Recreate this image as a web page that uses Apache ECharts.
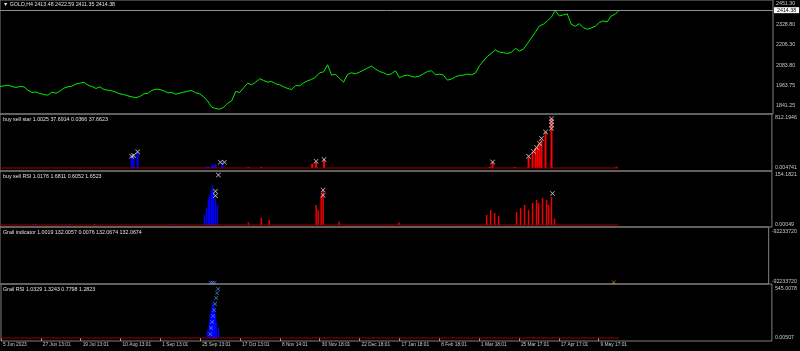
<!DOCTYPE html>
<html><head><meta charset="utf-8">
<script src="https://cdn.jsdelivr.net/npm/echarts@6/dist/echarts.min.js"></script>
<style>html,body{margin:0;padding:0;background:#000;}#c{width:800px;height:351px;}</style>
</head><body><div id="c"></div>
<script>
// ---------- DATA ----------
const BAR_STEP = 4; // bars between price samples
const price = [
1958,1962,1966,1958,1952,1958,1956,1935,1922,1925,1916,1910,1906,1924,1918,1930,1948,1956,1960,1972,
1978,1983,1966,1958,1946,1956,1940,1936,1932,1924,1914,1910,1902,1896,1891,1898,1914,1917,1934,1942,
1940,1932,1920,1922,1912,1918,1924,1930,1934,1920,1914,1896,1870,1834,1826,1822,1834,1858,1872,1928,
1922,1950,1978,1968,1984,2004,1994,1984,1988,1974,1968,1956,1946,1940,1964,1962,1980,1992,2000,2014,
2040,2045,2088,2026,2030,2006,1984,2030,2040,2034,2044,2056,2068,2080,2062,2048,2040,2028,2034,2052,
2010,2022,2026,2018,2014,2020,2034,2048,2052,2028,2032,2026,1996,2002,2016,2024,2026,2032,2028,2038,
2082,2110,2138,2156,2176,2164,2160,2156,2162,2186,2170,2180,2214,2248,2282,2320,2330,2350,2372,2412,
2380,2386,2392,2330,2318,2334,2310,2300,2308,2318,2340,2350,2344,2380,2390,2414.38];
const priceTicks = [2451.30, 2328.80, 2206.30, 2083.80, 1963.75, 1841.25];

const xLabels = ['5 Jun 2023','27 Jun 13:01','19 Jul 13:01','10 Aug 13:01','1 Sep 13:01','25 Sep 13:01',
 '17 Oct 13:01','8 Nov 14:01','30 Nov 18:01','22 Dec 18:01','17 Jan 18:01','8 Feb 18:01','1 Mar 18:01',
 '25 Mar 17:01','17 Apr 17:01','9 May 17:01'];
const X_LABEL_STEP = 40; // bars between time labels

const paneTitles = [
 '\u25BC GOLD,H4 2413.48 2422.59 2411.35 2414.38',
 'buy sell star 1.0025 37.6914 0.0366 37.6623',
 'buy sell RSI 1.0176 1.6811 0.6052 1.6523',
 'Grail indicator 1.0019 132.0057 0.0076 132.0674 132.0674',
 'Grail RSI 1.0329 1.3243 0.7798 1.2823'];

// buy sell star
const starBuyX = [132,134,138,207,209,213,215,216,223];
const starBuyY = [179,195,260,21,21,49,49,65,93];
const starSellX = [249,262,313,317,325,491,492,494,516,530,534,537,539,541,543,547,553,618];
const starSellY = [15,15,65,97,146,20,20,97,15,179,260,325,341,390,455,585,812.19,20];
const starMarkX = [132,134,138,221,225,317,325,494,530,535,538,541,543,547,553,553,553,553];
const starMarkY = [190,205,262,93,93,110,140,97,190,270,335,400,480,585,800,750,700,640];
const starTicks = [812.1946, 0];
const starTickLabels = ['812.1946','0.004741'];

// buy sell RSI
const rsiBuyX = [33,36,62,66,70,171,176,205,207,209,210,212,213,214,216,218,446,452];
const rsiBuyY = [4,3,4,3,4,3,3,31,52,77,93,108,123,102,83,62,3,4];
const rsiSellX = [95,249,262,270,317,319,322,324,340,400,488,492,496,500,518,522,526,530,534,538,540,544,548,550,553,556];
const rsiSellY = [3,8,22,15,62,46,93,108,10,8,31,46,37,28,40,52,62,46,68,77,68,83,77,62,87,20];
const rsiMarkX = [216,216,219,324,324,554];
const rsiMarkY = [104,90,154,108,92,97];
const rsiTicks = [154.1821, 0];
const rsiTickLabels = ['154.1821','0.00049'];

// Grail indicator
const grailIndMarkX = [212,214,216];
const grailIndMarkY = [0.02,0.02,0.02];
const grailIndOrangeX = [618];
const grailIndOrangeY = [0.03];
const grailIndTicks = [0.912, 0.035];
const grailIndTickLabels = ['-92233720','-92233720'];

// Grail RSI
const grailBuyX = [207,209,210,211,212,213,214,215,216,218];
const grailBuyY = [89,178,256,311,367,400,334,256,178,111];
const grailSellX = [248,262,316,320,325,495,505,535,545,555];
const grailSellY = [6,6,8,8,6,8,6,8,8,6];
const grailMarkX = [210,211,212,213,214,215,216,217,218];
const grailMarkY = [44,111,178,245,311,378,445,500,545];
const grailTicks = [545.0078, 0];
const grailTickLabels = ['545.0078','0.00507'];

// ---------- CHART ----------
const XPATH = 'path://M0,1L1,0L5,4L9,0L10,1L6,5L10,9L9,10L5,6L1,10L0,9L4,5Z';
const FONT = 'Liberation Sans, DejaVu Sans, sans-serif';
const PLOT_W = 773;
const panes = [
  {top:0, h:114, min:1793.4, max:2475.2, ticks:priceTicks, labels:priceTicks.map(v=>v.toFixed(2))},
  {top:114, h:57, min:-48.7, max:877.2, ticks:starTicks, labels:starTickLabels},
  {top:171, h:56, min:-6.17, max:166.5, ticks:rsiTicks, labels:rsiTickLabels},
  {top:227, h:57, min:0, max:1, ticks:grailIndTicks, labels:grailIndTickLabels},
  {top:284, h:57, min:-33.4, max:600.6, ticks:grailTicks, labels:grailTickLabels}
];

const grids = panes.map(p => ({left:-1, right:800-PLOT_W, top:p.top, height:p.h, show:true,
  borderColor:'#808080', borderWidth:1, backgroundColor:'transparent'}));
const xTickVals = xLabels.map((_, i) => i * X_LABEL_STEP);
const xAxes = panes.map((p, gi) => ({
  type:'value', gridIndex:gi, min:0, max:PLOT_W+1, show: gi === 4,
  axisLine:{show:false}, splitLine:{show:false},
  axisTick:{show:true, inside:false, length:3, customValues:xTickVals, lineStyle:{color:'#a0a0a0'}},
  axisLabel:{show:true, customValues:xTickVals, align:'left', padding:[0,0,0,2], margin:1,
    color:'#c8c8c8', fontSize:4.8, fontFamily:FONT,
    formatter: v => xLabels[Math.round(v / X_LABEL_STEP)] || ''}
}));
const yAxes = panes.map((p, gi) => ({
  type:'value', gridIndex:gi, position:'right', min:p.min, max:p.max,
  axisLine:{show:false}, axisTick:{show:false}, splitLine:{show:false},
  axisLabel:{show:true, customValues:p.ticks, margin:3, color:'#c8c8c8', fontSize:5.3, fontFamily:FONT,
    formatter: v => { let k = 0, d = Infinity; p.ticks.forEach((t,i)=>{ if (Math.abs(t-v)<d){d=Math.abs(t-v);k=i;} }); return p.labels[k]; }}
}));

function pairs(xs, ys){ return xs.map((x,i)=>[x, ys[i]]); }
function bars(gi, xs, ys, color, w){ return {type:'bar', xAxisIndex:gi, yAxisIndex:gi, data:pairs(xs,ys),
  barWidth:w||1, barGap:'-100%', itemStyle:{color}, silent:true}; }
function marks(gi, xs, ys, color, size){ return {type:'scatter', xAxisIndex:gi, yAxisIndex:gi, data:pairs(xs,ys),
  symbol:XPATH, symbolSize:size||5, itemStyle:{color}, silent:true, clip:false}; }
function baseline(gi){ return {type:'line', xAxisIndex:gi, yAxisIndex:gi, symbol:'none', silent:true,
  data: price.map((_, i) => [i*BAR_STEP, 0]), lineStyle:{color:'#a00000', width:1}}; }

const lastPrice = price[price.length-1];
const series = [
  {type:'line', xAxisIndex:0, yAxisIndex:0, symbol:'none', silent:true,
   data: price.map((v,i)=>[i*BAR_STEP, v]), lineStyle:{color:'#00ee00', width:1},
   markLine:{silent:true, symbol:'none', animation:false,
     lineStyle:{color:'#909090', width:1, type:'solid'},
     label:{position:'end', distance:1, formatter: lastPrice.toFixed(2), backgroundColor:'#ffffff',
       color:'#000', fontSize:5.3, fontFamily:FONT, padding:[1,3,0,3]},
     data:[{yAxis:lastPrice}]}},
  baseline(1),
  bars(1, starBuyX, starBuyY, '#0000ff', 2),
  bars(1, starSellX, starSellY, '#ff0000', 2),
  marks(1, starMarkX, starMarkY, '#f0f0f0'),
  baseline(2),
  bars(2, rsiBuyX, rsiBuyY, '#0000ff', 1.5),
  bars(2, rsiSellX, rsiSellY, '#ee0000', 1.5),
  marks(2, rsiMarkX, rsiMarkY, '#f0f0f0'),
  marks(3, grailIndMarkX, grailIndMarkY, '#6699ff', 4),
  marks(3, grailIndOrangeX, grailIndOrangeY, '#ff9900', 4),
  baseline(4),
  bars(4, grailBuyX, grailBuyY, '#0000ff', 1.5),
  bars(4, grailSellX, grailSellY, '#ee0000'),
  marks(4, grailMarkX, grailMarkY, '#55aaff', 4)
];

const graphics = paneTitles.map((t, i) => ({type:'text', left:3, top:panes[i].top + (i===0?2:3),
  style:{text:t, fill:'#e0e0e0', font:'5.3px ' + FONT}}));

const chart = echarts.init(document.getElementById('c'), null, {renderer:'canvas'});
chart.setOption({
  backgroundColor:'#000', animation:false,
  grid:grids, xAxis:xAxes, yAxis:yAxes, series:series, graphic:graphics
});
</script></body></html>
